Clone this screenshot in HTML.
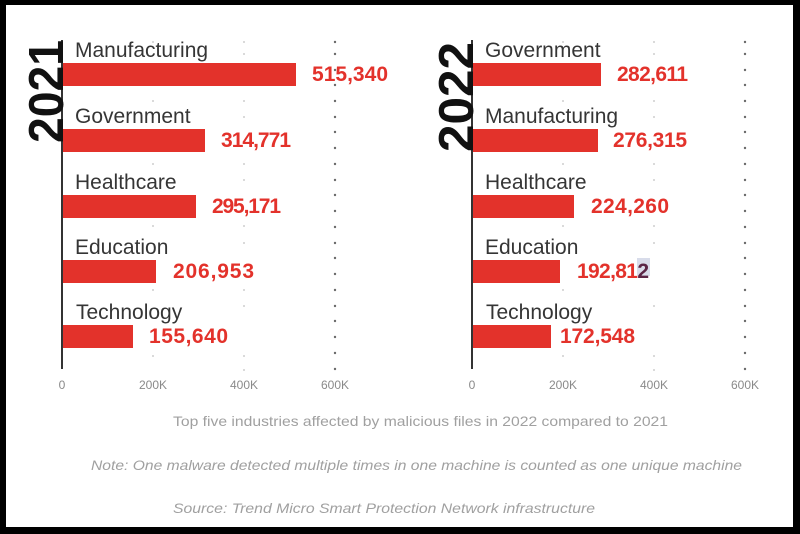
<!DOCTYPE html>
<html>
<head>
<meta charset="utf-8">
<style>
  html,body{margin:0;padding:0;background:#000;}
  body{width:800px;height:534px;overflow:hidden;}
  svg{display:block;}
</style>
</head>
<body>
<svg width="800" height="534" viewBox="0 0 800 534" xmlns="http://www.w3.org/2000/svg">
  <rect x="0" y="0" width="800" height="534" fill="#000"/>
  <rect x="6" y="5" width="787" height="522" fill="#fff"/>

  <!-- gridline dots -->
  <g fill="#cfcfcf">
    <circle cx="153" cy="42" r="1"/><circle cx="153" cy="101" r="1"/><circle cx="153" cy="117" r="1"/><circle cx="153" cy="164" r="1"/><circle cx="153" cy="226" r="1"/><circle cx="153" cy="290" r="1"/><circle cx="153" cy="356" r="1"/>
    <circle cx="244" cy="42" r="1"/><circle cx="244" cy="54" r="1"/><circle cx="244" cy="101" r="1"/><circle cx="244" cy="117" r="1"/><circle cx="244" cy="164" r="1"/><circle cx="244" cy="180" r="1"/><circle cx="244" cy="226" r="1"/><circle cx="244" cy="243" r="1"/><circle cx="244" cy="290" r="1"/><circle cx="244" cy="306" r="1"/><circle cx="244" cy="356" r="1"/><circle cx="244" cy="370" r="1"/>
    <circle cx="563" cy="42" r="1"/><circle cx="563" cy="101" r="1"/><circle cx="563" cy="164" r="1"/><circle cx="563" cy="226" r="1"/><circle cx="563" cy="290" r="1"/><circle cx="563" cy="356" r="1"/>
    <circle cx="654" cy="42" r="1"/><circle cx="654" cy="54" r="1"/><circle cx="654" cy="101" r="1"/><circle cx="654" cy="117" r="1"/><circle cx="654" cy="164" r="1"/><circle cx="654" cy="180" r="1"/><circle cx="654" cy="226" r="1"/><circle cx="654" cy="243" r="1"/><circle cx="654" cy="306" r="1"/><circle cx="654" cy="356" r="1"/><circle cx="654" cy="370" r="1"/>
  </g>
  <g fill="#6a6a6a">
    <circle cx="335" cy="42" r="1.2"/><circle cx="335" cy="54" r="1.2"/><circle cx="335" cy="70" r="1.2"/><circle cx="335" cy="85" r="1.2"/><circle cx="335" cy="101" r="1.2"/><circle cx="335" cy="117" r="1.2"/><circle cx="335" cy="132" r="1.2"/><circle cx="335" cy="148" r="1.2"/><circle cx="335" cy="164" r="1.2"/><circle cx="335" cy="180" r="1.2"/><circle cx="335" cy="195" r="1.2"/><circle cx="335" cy="211" r="1.2"/><circle cx="335" cy="227" r="1.2"/><circle cx="335" cy="243" r="1.2"/><circle cx="335" cy="258" r="1.2"/><circle cx="335" cy="274" r="1.2"/><circle cx="335" cy="290" r="1.2"/><circle cx="335" cy="306" r="1.2"/><circle cx="335" cy="321" r="1.2"/><circle cx="335" cy="337" r="1.2"/><circle cx="335" cy="353" r="1.2"/><circle cx="335" cy="369" r="1.2"/>
    <circle cx="745" cy="42" r="1.2"/><circle cx="745" cy="54" r="1.2"/><circle cx="745" cy="70" r="1.2"/><circle cx="745" cy="85" r="1.2"/><circle cx="745" cy="101" r="1.2"/><circle cx="745" cy="117" r="1.2"/><circle cx="745" cy="132" r="1.2"/><circle cx="745" cy="148" r="1.2"/><circle cx="745" cy="164" r="1.2"/><circle cx="745" cy="180" r="1.2"/><circle cx="745" cy="195" r="1.2"/><circle cx="745" cy="211" r="1.2"/><circle cx="745" cy="227" r="1.2"/><circle cx="745" cy="243" r="1.2"/><circle cx="745" cy="258" r="1.2"/><circle cx="745" cy="274" r="1.2"/><circle cx="745" cy="290" r="1.2"/><circle cx="745" cy="306" r="1.2"/><circle cx="745" cy="321" r="1.2"/><circle cx="745" cy="337" r="1.2"/><circle cx="745" cy="353" r="1.2"/><circle cx="745" cy="369" r="1.2"/>
  </g>

  <!-- axes -->
  <rect x="61" y="40" width="2" height="329" fill="#333"/>
  <rect x="471" y="40" width="2" height="329" fill="#333"/>

  <!-- years -->
  <text transform="translate(63,143) rotate(-90)" font-family="Liberation Sans, sans-serif" font-weight="bold" font-size="49" fill="#111" textLength="103" lengthAdjust="spacingAndGlyphs">2021</text>
  <text transform="translate(473,152) rotate(-90)" font-family="Liberation Sans, sans-serif" font-weight="bold" font-size="49" fill="#111" textLength="110" lengthAdjust="spacingAndGlyphs">2022</text>

  <!-- bars -->
  <g fill="#e3322b">
    <rect x="63" y="63" width="233" height="23"/>
    <rect x="63" y="129" width="142" height="23"/>
    <rect x="63" y="195" width="133" height="23"/>
    <rect x="63" y="260" width="93" height="23"/>
    <rect x="63" y="325" width="70" height="23"/>
    <rect x="473" y="63" width="128" height="23"/>
    <rect x="473" y="129" width="125" height="23"/>
    <rect x="473" y="195" width="101" height="23"/>
    <rect x="473" y="260" width="87" height="23"/>
    <rect x="473" y="325" width="78" height="23"/>
  </g>

  <!-- category labels -->
  <g font-family="Liberation Sans, sans-serif" font-size="21" fill="#353535">
    <text x="75" y="57">Manufacturing</text>
    <text x="75" y="123">Government</text>
    <text x="75" y="189">Healthcare</text>
    <text x="75" y="254">Education</text>
    <text x="76" y="319">Technology</text>
    <text x="485" y="57">Government</text>
    <text x="485" y="123">Manufacturing</text>
    <text x="485" y="189">Healthcare</text>
    <text x="485" y="254">Education</text>
    <text x="486" y="319">Technology</text>
  </g>

  <!-- highlight box behind last digit -->
  <rect x="637" y="258" width="13" height="18" fill="#d8dcea"/>

  <!-- values -->
  <g font-family="Liberation Sans, sans-serif" font-size="21" font-weight="bold" fill="#e3322b">
    <text x="312" y="81" textLength="76" lengthAdjust="spacing">515,340</text>
    <text x="221" y="147" textLength="70" lengthAdjust="spacing">314,771</text>
    <text x="212" y="213" textLength="69" lengthAdjust="spacing">295,171</text>
    <text x="173" y="278" textLength="81" lengthAdjust="spacing">206,953</text>
    <text x="149" y="343" textLength="79" lengthAdjust="spacing">155,640</text>
    <text x="617" y="81" textLength="71" lengthAdjust="spacing">282,611</text>
    <text x="613" y="147" textLength="74" lengthAdjust="spacing">276,315</text>
    <text x="591" y="213" textLength="78" lengthAdjust="spacing">224,260</text>
    <text x="577" y="278" textLength="72" lengthAdjust="spacing">192,81<tspan fill="#5a2545">2</tspan></text>
    <text x="560" y="343" textLength="75" lengthAdjust="spacing">172,548</text>
  </g>

  <!-- ticks -->
  <g font-family="Liberation Sans, sans-serif" font-size="12" fill="#8a8a8a" text-anchor="middle">
    <text x="62" y="389">0</text>
    <text x="153" y="389">200K</text>
    <text x="244" y="389">400K</text>
    <text x="335" y="389">600K</text>
    <text x="472" y="389">0</text>
    <text x="563" y="389">200K</text>
    <text x="654" y="389">400K</text>
    <text x="745" y="389">600K</text>
  </g>

  <!-- captions -->
  <g font-family="Liberation Sans, sans-serif" font-size="14" fill="#a0a0a0">
    <text x="173" y="426" textLength="495" lengthAdjust="spacingAndGlyphs">Top five industries affected by malicious files in 2022 compared to 2021</text>
    <text x="91" y="470" font-style="italic" textLength="651" lengthAdjust="spacingAndGlyphs">Note: One malware detected multiple times in one machine is counted as one unique machine</text>
    <text x="173" y="513" font-style="italic" textLength="422" lengthAdjust="spacingAndGlyphs">Source: Trend Micro Smart Protection Network infrastructure</text>
  </g>
</svg>
</body>
</html>
